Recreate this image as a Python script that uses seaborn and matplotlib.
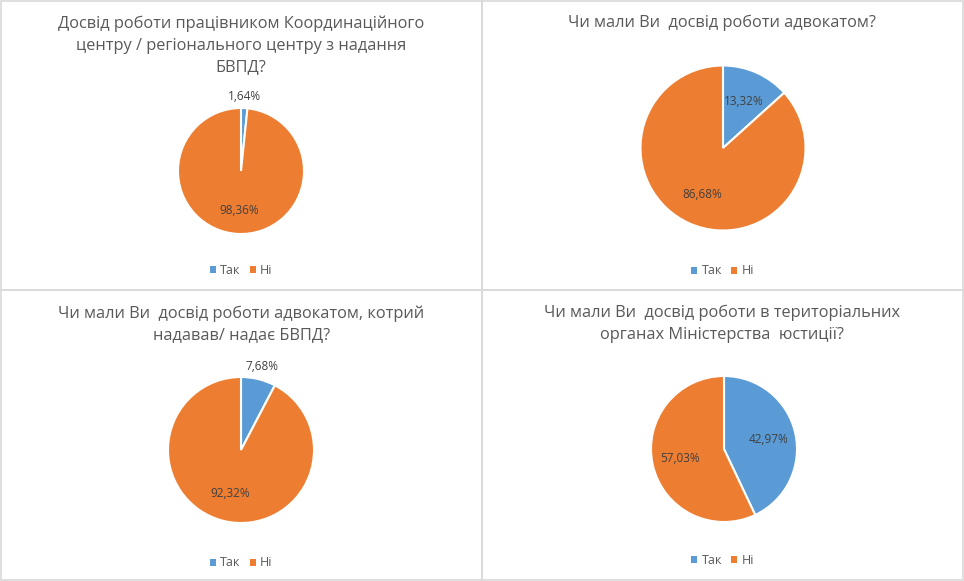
import numpy as np
import matplotlib
matplotlib.use("Agg")
import matplotlib.pyplot as plt
from matplotlib.patches import Rectangle, Patch
import seaborn as sns

# --- data ---
categories = ["Так", "Ні"]
titles = [
    "Досвід роботи працівником Координаційного\nцентру / регіонального центру з надання\nБВПД?",
    "Чи мали Ви  досвід роботи адвокатом?",
    "Чи мали Ви  досвід роботи адвокатом, котрий\nнадавав/ надає БВПД?",
    "Чи мали Ви  досвід роботи в територіальних\nорганах Міністерства  юстиції?",
]
coordination_center = [1.64, 98.36]
lawyer = [13.32, 86.68]
lawyer_free_aid = [7.68, 92.32]
justice_bodies = [42.97, 57.03]
series = [coordination_center, lawyer, lawyer_free_aid, justice_bodies]

# --- style ---
sns.set_theme(style="white")
plt.rcParams['font.family'] = ['Open Sans', 'DejaVu Sans']
colors = ["#5B9BD5", "#ED7D31"]
title_color = "#595959"
label_color = "#404040"

W, H = 964, 581
fig = plt.figure(figsize=(W / 100, H / 100), dpi=100)

# panel boxes (x, y, w, h) in pixels from top-left
panels = [(0.5, 0.5, 481.5, 289), (482, 0.5, 481, 289),
          (0.5, 290, 481.5, 290), (482, 290, 481, 290)]
# pie centre / radius in pixels, title top, legend y
pie_geom = [(241, 171, 63), (723, 148, 82.5), (241, 450, 73), (724, 449, 73)]
title_y = [15, 15, 305, 305]
legend_y = [270, 271, 563, 560]

def fx(px):
    return px / W

def fy(py):
    return 1 - py / H

for i, vals in enumerate(series):
    px, py, pw, ph = panels[i]
    fig.patches.append(Rectangle((fx(px), fy(py + ph)), pw / W, ph / H,
                                 transform=fig.transFigure, fill=False,
                                 edgecolor="#d9d9d9", linewidth=1.2))

    cx, cy, r = pie_geom[i]
    side = 2.5 * r
    ax = fig.add_axes([fx(cx - side / 2), fy(cy + side / 2), side / W, side / H])
    wedges, texts, autotexts = ax.pie(
        vals, colors=colors, startangle=90, counterclock=False,
        autopct=lambda p: f"{p:.2f}%".replace(".", ","), pctdistance=0.62,
        wedgeprops=dict(edgecolor="white", linewidth=1.5),
        textprops=dict(fontsize=8.5, color=label_color))
    # small slices get their label outside the pie
    for w, t, v in zip(wedges, autotexts, vals):
        if v < 10:
            ang = np.deg2rad((w.theta1 + w.theta2) / 2)
            t.set_position((1.18 * np.cos(ang), 1.18 * np.sin(ang)))

    fig.text(fx(px + pw / 2), fy(title_y[i]), titles[i], ha="center", va="top",
             fontsize=11.8, color=title_color, linespacing=1.5)

    handles = [Patch(facecolor=c, edgecolor="none") for c in colors]
    fig.legend(handles, categories, loc="center",
               bbox_to_anchor=(fx(px + pw / 2), fy(legend_y[i])),
               ncol=2, frameon=False, fontsize=9, handlelength=0.5,
               handleheight=0.5, columnspacing=0.7, handletextpad=0.35,
               labelcolor=title_color)

fig.savefig("out.png", dpi=100, facecolor="white")
